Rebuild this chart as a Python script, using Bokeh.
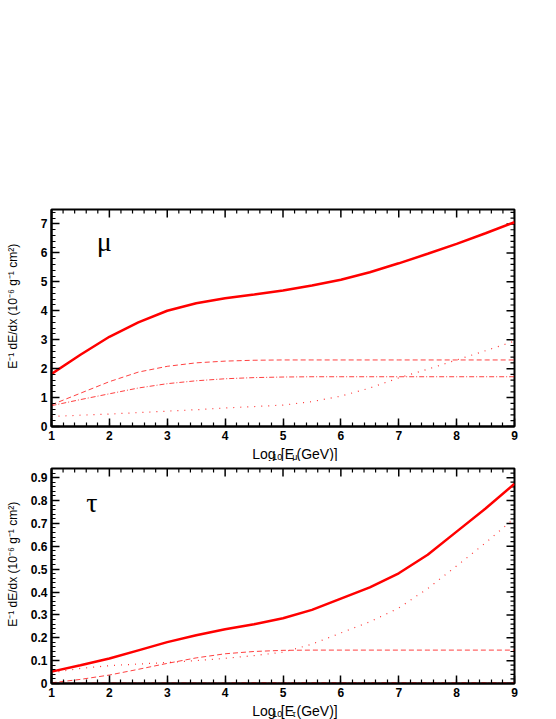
import math
from bokeh.plotting import figure
from bokeh.models import FixedTicker, Label, Range1d
from bokeh.layouts import column
from bokeh.core.properties import value
from bokeh.embed import file_html
from bokeh.resources import INLINE

# ---------------- data ----------------
log_e = [1.0, 1.5, 2.0, 2.5, 3.0, 3.5, 4.0, 4.5, 5.0, 5.5, 6.0, 6.5, 7.0, 7.5, 8.0, 8.5, 9.0]

mu_total = [1.82, 2.48, 3.10, 3.60, 4.00, 4.26, 4.43, 4.56, 4.70, 4.87, 5.07, 5.33, 5.64, 5.97, 6.31, 6.68, 7.06]
mu_pair = [0.75, 1.15, 1.55, 1.88, 2.08, 2.20, 2.26, 2.29, 2.30, 2.30, 2.30, 2.30, 2.30, 2.30, 2.30, 2.30, 2.30]
mu_brems = [0.72, 0.93, 1.13, 1.33, 1.48, 1.58, 1.65, 1.69, 1.71, 1.72, 1.72, 1.72, 1.72, 1.72, 1.72, 1.72, 1.72]
mu_photonuc = [0.35, 0.39, 0.43, 0.48, 0.53, 0.58, 0.64, 0.69, 0.74, 0.86, 1.05, 1.33, 1.68, 1.98, 2.30, 2.62, 2.95]

tau_total = [0.052, 0.080, 0.109, 0.145, 0.181, 0.211, 0.237, 0.259, 0.285, 0.322, 0.371, 0.420, 0.482, 0.563, 0.664, 0.765, 0.873]
tau_pair = [0.003, 0.018, 0.037, 0.062, 0.088, 0.112, 0.130, 0.140, 0.145, 0.146, 0.146, 0.146, 0.146, 0.146, 0.146, 0.146, 0.146]
tau_brems = [0.002, 0.002, 0.003, 0.003, 0.003, 0.003, 0.003, 0.004, 0.004, 0.004, 0.004, 0.004, 0.004, 0.004, 0.004, 0.004, 0.004]
tau_photonuc = [0.047, 0.066, 0.078, 0.085, 0.092, 0.100, 0.110, 0.122, 0.137, 0.172, 0.221, 0.270, 0.330, 0.415, 0.514, 0.615, 0.723]

x_ticks = [1, 2, 3, 4, 5, 6, 7, 8, 9]
mu_y_ticks = [0, 1, 2, 3, 4, 5, 6, 7]
tau_y_ticks = [0, 0.1, 0.2, 0.3, 0.4, 0.5, 0.6, 0.7, 0.8, 0.9]

y_title = "\u00a0" * 7 + "E\u207b\u00b9 dE/dx (10\u207b\u2076 g\u207b\u00b9 cm\u00b2)"

# ---------------- layout constants ----------------
W = 540
FL = 51
FR = W - 514
RED = "#ff0000"
FONT = "Liberation Sans"


def steps(lo, hi, step):
    n = int(round((hi - lo) / step))
    return [round(lo + i * step, 4) for i in range(n + 1)]


def style_axis(ax, label_standoff):
    ax.major_tick_in = 8
    ax.major_tick_out = 0
    ax.minor_tick_in = 4
    ax.minor_tick_out = 0
    ax.axis_line_width = 2
    ax.axis_line_color = "black"
    ax.major_tick_line_width = 1.5
    ax.minor_tick_line_width = 1.2
    ax.major_label_text_font = FONT
    ax.major_label_text_font_style = "bold"
    ax.major_label_text_font_size = "12px"
    ax.major_label_text_color = "black"
    ax.major_label_standoff = 4
    ax.axis_label_standoff = label_standoff
    ax.axis_label_text_font = FONT
    ax.axis_label_text_font_style = "normal"
    ax.axis_label_text_font_size = "12px"
    ax.axis_label_text_color = "black"


def make_panel(height, top, bottom, ymax, yticks, yminor, overrides, ylab_standoff):
    p = figure(width=W, height=height, x_range=Range1d(1, 9), y_range=Range1d(0, ymax),
               output_backend="svg", toolbar_location=None,
               min_border_left=FL, min_border_right=FR,
               min_border_top=top, min_border_bottom=bottom)
    p.xgrid.visible = False
    p.ygrid.visible = False
    p.outline_line_color = "black"
    p.outline_line_width = 2
    p.background_fill_color = "white"
    p.border_fill_color = "white"
    xminor = steps(1, 9, 0.2)
    p.xaxis[0].ticker = FixedTicker(ticks=x_ticks, minor_ticks=xminor)
    p.yaxis[0].ticker = FixedTicker(ticks=yticks, minor_ticks=yminor)
    p.yaxis[0].major_label_overrides = overrides
    style_axis(p.xaxis[0], 5)
    style_axis(p.yaxis[0], ylab_standoff)
    p.yaxis[0].axis_label = y_title
    # inward ticks on the top and right edges of the frame
    xmin_only = [v for v in xminor if abs(v - round(v)) > 1e-6]
    ymin_only = [v for v in yminor if all(abs(v - t) > 1e-6 for t in yticks)]
    p.ray(x=x_ticks, y=[ymax] * len(x_ticks), length=8, length_units="screen",
          angle=-math.pi / 2, line_color="black", line_width=1.5)
    p.ray(x=xmin_only, y=[ymax] * len(xmin_only), length=4, length_units="screen",
          angle=-math.pi / 2, line_color="black", line_width=1.2)
    p.ray(x=[9] * len(yticks), y=yticks, length=8, length_units="screen",
          angle=math.pi, line_color="black", line_width=1.5)
    p.ray(x=[9] * len(ymin_only), y=ymin_only, length=4, length_units="screen",
          angle=math.pi, line_color="black", line_width=1.2)
    return p


def add_curves(p, tot, pair, brems, nuc):
    p.line(log_e, pair, line_color=RED, line_width=1, line_alpha=0.75, line_dash="5 3")
    p.line(log_e, brems, line_color=RED, line_width=1, line_alpha=0.75, line_dash="5 2 1 2")
    p.line(log_e, nuc, line_color=RED, line_width=1.2, line_alpha=0.8, line_dash="1 6")
    p.line(log_e, tot, line_color=RED, line_width=2.5)


def title_strip(h, sub, base_y):
    t = figure(width=W, height=h, x_range=Range1d(0, W), y_range=Range1d(0, h),
               title=None, output_backend="svg", toolbar_location=None,
               x_axis_type=None, y_axis_type=None,
               min_border=0, min_border_left=0, min_border_right=0,
               min_border_top=0, min_border_bottom=0)
    t.xgrid.visible = False
    t.ygrid.visible = False
    t.outline_line_color = None
    t.background_fill_color = "white"
    t.border_fill_color = "white"
    pieces = [("Log", 14, 0, 1.668), ("10", 9, -3, 1.112), ("[E", 14, 0, 0.945),
              (sub, 9, -3, 0.56), (" (GeV)]", 14, 0, 3.223)]
    total = sum(sz * w for _, sz, _, w in pieces)
    cx = FL + (514 - FL) / 2.0
    xs = cx - total / 2.0
    for txt, sz, dy, w in pieces:
        t.text(x=[xs], y=[base_y + dy], text=[txt], text_font=value(FONT),
               text_font_size=value(f"{sz}px"), text_align="left",
               text_baseline="alphabetic", text_color="black")
        xs += sz * w
    return t


# ---------------- top panel: muon ----------------
p1 = make_panel(442, 209, 15, 7.5, mu_y_ticks, steps(0, 7.4, 0.2), {}, 18)
add_curves(p1, mu_total, mu_pair, mu_brems, mu_photonuc)
p1.add_layout(Label(x=1.78, y=6.4, text="\u03bc", text_font="Liberation Serif",
                    text_font_size="28px", text_color="black", text_baseline="alphabetic"))
t1 = title_strip(19, "\u03bc", 8)

# ---------------- bottom panel: tau ----------------
p2 = make_panel(238, 7, 15, 0.94, tau_y_ticks, steps(0, 0.94, 0.02), {0: "0"}, 8)
add_curves(p2, tau_total, tau_pair, tau_brems, tau_photonuc)
p2.add_layout(Label(x=1.6, y=0.79, text="\u03c4", text_font="Liberation Serif",
                    text_font_size="28px", text_color="black", text_baseline="alphabetic"))
t2 = title_strip(20, "\u03c4", 9)

layout = column(p1, t1, p2, t2, spacing=0)
open("out.html", "w").write(file_html(layout, INLINE))
